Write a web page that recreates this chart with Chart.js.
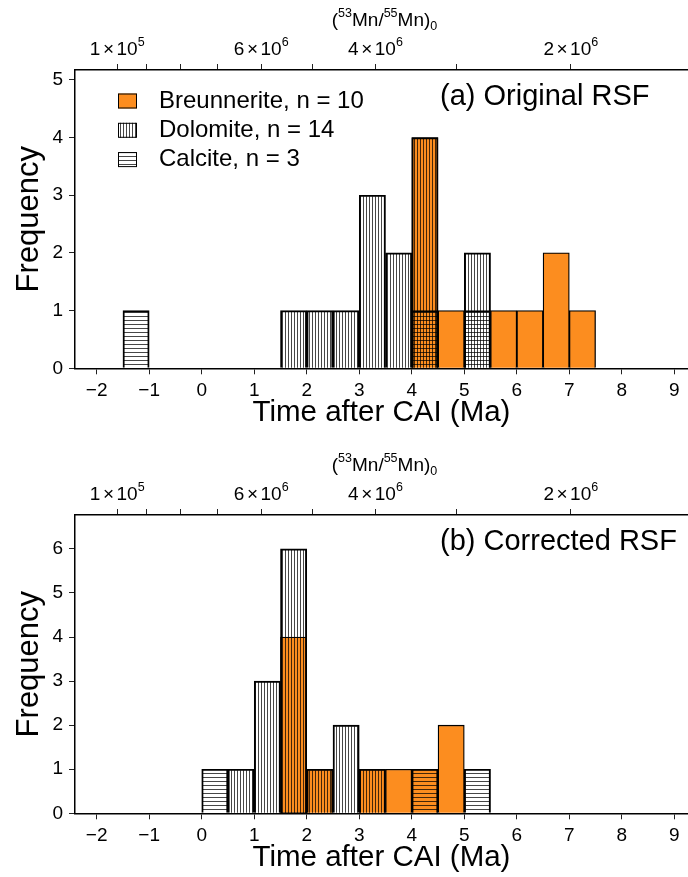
<!DOCTYPE html>
<html><head><meta charset="utf-8">
<script src="https://cdn.jsdelivr.net/npm/chart.js@4"></script>
<style>
html,body{margin:0;padding:0;background:#fff;overflow:hidden;width:688px;height:877px;}
#wrap{position:relative;width:688px;height:877px;overflow:hidden;background:#fff;}
canvas{position:absolute;left:0;}
#ca{top:0px}
#cb{top:445px}
</style></head><body>
<div id="wrap"><canvas id="ca" width="688" height="445"></canvas><canvas id="cb" width="688" height="445"></canvas></div>
<script>
// ---------- data ----------
const binWidth = 0.5;
// panel (a) Original RSF  (bin lower edges, counts)
const breunA_bins = [4.0, 4.5, 5.5, 6.0, 6.5, 7.0];
const breunA_counts = [4, 1, 1, 1, 2, 1];
const dolA_bins = [1.5, 2.0, 2.5, 3.0, 3.5, 4.0, 5.0];
const dolA_counts = [1, 1, 1, 3, 2, 4, 2];
const calA_bins = [-1.5, 4.0, 5.0];
const calA_counts = [1, 1, 1];
// panel (b) Corrected RSF
const breunB_bins = [1.5, 2.0, 3.0, 3.5, 4.0, 4.5];
const breunB_counts = [4, 1, 1, 1, 1, 2];
const dolB_bins = [0.5, 1.0, 1.5, 2.0, 2.5, 3.0];
const dolB_counts = [1, 3, 6, 1, 2, 1];
const calB_bins = [0.0, 4.0, 5.0];
const calB_counts = [1, 1, 1];

const seriesLabels = ['Breunnerite, n = 10', 'Dolomite, n = 14', 'Calcite, n = 3'];
const panelTitles = ['(a) Original RSF', '(b) Corrected RSF'];
const xTicks = [-2, -1, 0, 1, 2, 3, 4, 5, 6, 7, 8, 9];
const yTicksA = [0, 1, 2, 3, 4, 5];
const yTicksB = [0, 1, 2, 3, 4, 5, 6];
const ratioTicks = [10e-6, 9e-6, 8e-6, 7e-6, 6e-6, 5e-6, 4e-6, 3e-6, 2e-6];
const ratioTickLabels = ['1×10⁵', '', '', '', '6×10⁶', '', '4×10⁶', '', '2×10⁶'];
const xTitle = 'Time after CAI (Ma)';
const yTitle = 'Frequency';
const topTitle = '(⁵³Mn/⁵⁵Mn)₀';
const halfLifeMa = 3.72;
const ratioAtCAI = 7.41e-6;

// ---------- helpers ----------
const FONT = '"Liberation Sans", Arial, Helvetica, sans-serif';
const ORANGE = '#FC8D1F';
const tau = halfLifeMa / Math.LN2;
const timeOfRatio = r => tau * Math.log(ratioAtCAI / r);

function makePattern(vertical) {
  const c = document.createElement('canvas');
  c.width = vertical ? 3 : 4; c.height = vertical ? 4 : 4;
  const g = c.getContext('2d');
  g.fillStyle = 'rgba(0,0,0,0.72)';
  if (vertical) g.fillRect(0, 0, 1, 4); else g.fillRect(0, 0, 4, 1);
  return g.createPattern(c, 'repeat');
}
const vPat = makePattern(true);
const hPat = makePattern(false);

const toXY = (bins, counts) => bins.map((b, i) => ({x: b + binWidth / 2, y: counts[i]}));
const fmtNum = v => v < 0 ? '\u2212' + Math.abs(v) : String(v);

// rich text with Unicode super/subscripts drawn as raised / lowered small text
const SUP = '⁰¹²³⁴⁵⁶⁷⁸⁹', SUB = '₀₁₂₃₄₅₆₇₈₉';
function segments(text) {
  const segs = [];
  for (const ch of text) {
    let kind = 'n', c = ch;
    if (SUP.includes(ch)) { kind = 'sup'; c = String(SUP.indexOf(ch)); }
    else if (SUB.includes(ch)) { kind = 'sub'; c = String(SUB.indexOf(ch)); }
    const last = segs[segs.length - 1];
    if (last && last.kind === kind && ch !== '×' && last.t !== '×') last.t += c;
    else segs.push({kind, t: c});
  }
  return segs;
}
function drawRich(ctx, text, cx, baseY, size, small) {
  const segs = segments(text);
  const fontOf = s => (s.kind === 'n' ? size : small) + 'px ' + FONT;
  const pad = s => s.t === '×' ? 2.5 : 0;
  let w = 0;
  segs.forEach(s => { ctx.font = fontOf(s); s.w = ctx.measureText(s.t).width + 2 * pad(s); w += s.w; });
  let x = cx - w / 2;
  ctx.textAlign = 'left';
  ctx.textBaseline = 'alphabetic';
  segs.forEach(s => {
    ctx.font = fontOf(s);
    const dy = s.kind === 'sup' ? -size * 0.5 : (s.kind === 'sub' ? size * 0.22 : 0);
    ctx.fillText(s.t, x + pad(s), baseY + dy);
    x += s.w;
  });
}

const X_MIN = -2.413, X_MAX = 9.26;

const decoPlugin = {
  id: 'deco',
  afterDraw(chart, args, o) {
    const ctx = chart.ctx;
    const area = chart.chartArea;
    ctx.save();
    ctx.fillStyle = '#000';
    // top axis labels and title
    const x2 = chart.scales.x2;
    ratioTicks.forEach((r, i) => {
      if (!ratioTickLabels[i]) return;
      drawRich(ctx, ratioTickLabels[i], x2.getPixelForValue(timeOfRatio(r)), area.top - 15, 19, 12.5);
    });
    drawRich(ctx, topTitle, (area.left + area.right) / 2 + 3, area.top - 44, 19, 12.5);
    // panel title
    ctx.textBaseline = 'middle';
    ctx.textAlign = 'left';
    ctx.font = '29px ' + FONT;
    ctx.fillText(o.title, o.titleX, o.titleY);
    if (o.legend) {
      ctx.font = '24px ' + FONT;
      chart.data.datasets.forEach((ds, i) => {
        const y = o.legendY + i * o.legendGap;
        ctx.fillStyle = '#fff';
        ctx.fillRect(118, y - 7.5, 19, 15);
        ctx.fillStyle = ds.backgroundColor;
        ctx.fillRect(118, y - 7.5, 19, 15);
        ctx.strokeStyle = '#000';
        ctx.lineWidth = 1;
        ctx.strokeRect(118.5, y - 7, 18, 14);
        ctx.fillStyle = '#000';
        ctx.fillText(ds.label, 159, y);
      });
    }
    ctx.restore();
  }
};

function makeChart(id, d, yMax, yTicks, title, legend, titleY) {
  const datasets = [
    {label: seriesLabels[0], data: toXY(d.bBins, d.bCounts), backgroundColor: ORANGE, order: 3},
    {label: seriesLabels[1], data: toXY(d.dBins, d.dCounts), backgroundColor: vPat, order: 2},
    {label: seriesLabels[2], data: toXY(d.cBins, d.cCounts), backgroundColor: hPat, order: 1}
  ].map(ds => Object.assign(ds, {borderColor: '#000', borderWidth: 1.3, grouped: false,
      barPercentage: 1, categoryPercentage: 1}));
  const tickFont = {family: FONT, size: 19};
  const grid = {drawOnChartArea: false, drawTicks: true, tickLength: 6, color: '#222', lineWidth: 1, offset: false};
  const border = {display: true, color: '#000', width: 1.5};
  return new Chart(document.getElementById(id), {
    type: 'bar',
    data: {datasets},
    plugins: [decoPlugin],
    options: {
      responsive: false, animation: false, devicePixelRatio: 1,
      layout: {padding: 0},
      plugins: {legend: {display: false}, tooltip: {enabled: false},
        deco: {title, titleX: 440, titleY, legend, legendY: 101, legendGap: 29.3}},
      scales: {
        x: {type: 'linear', position: 'bottom', min: X_MIN, max: X_MAX, offset: false,
          afterBuildTicks: s => { s.ticks = xTicks.map(v => ({value: v})); },
          afterFit: s => { s.height = 445 - 368.3; },
          grid, border,
          ticks: {padding: 5, color: '#000', font: tickFont, autoSkip: false, maxRotation: 0,
            callback: v => fmtNum(v)},
          title: {display: true, text: xTitle, color: '#000', font: {family: FONT, size: 29.5},
            padding: {top: 0, bottom: 14}}
        },
        x2: {type: 'linear', position: 'top', min: X_MIN, max: X_MAX, offset: false,
          afterBuildTicks: s => { s.ticks = ratioTicks.map(r => ({value: timeOfRatio(r)})); },
          afterFit: s => { s.height = 70; },
          grid, border,
          ticks: {display: false},
          title: {display: false}
        },
        y: {type: 'linear', min: 0, max: yMax,
          afterBuildTicks: s => { s.ticks = yTicks.map(v => ({value: v})); },
          afterFit: s => { s.width = 75; },
          grid, border,
          ticks: {padding: 6, color: '#000', font: tickFont, callback: v => fmtNum(v)},
          title: {display: true, text: yTitle, color: '#000', font: {family: FONT, size: 31},
            padding: {top: 11, bottom: 0}}
        }
      }
    }
  });
}

makeChart('ca', {bBins: breunA_bins, bCounts: breunA_counts, dBins: dolA_bins, dCounts: dolA_counts,
  cBins: calA_bins, cCounts: calA_counts}, 5.17, yTicksA, panelTitles[0], true, 97);
makeChart('cb', {bBins: breunB_bins, bCounts: breunB_counts, dBins: dolB_bins, dCounts: dolB_counts,
  cBins: calB_bins, cCounts: calB_counts}, 6.77, yTicksB, panelTitles[1], false, 97);
</script>
</body></html>
